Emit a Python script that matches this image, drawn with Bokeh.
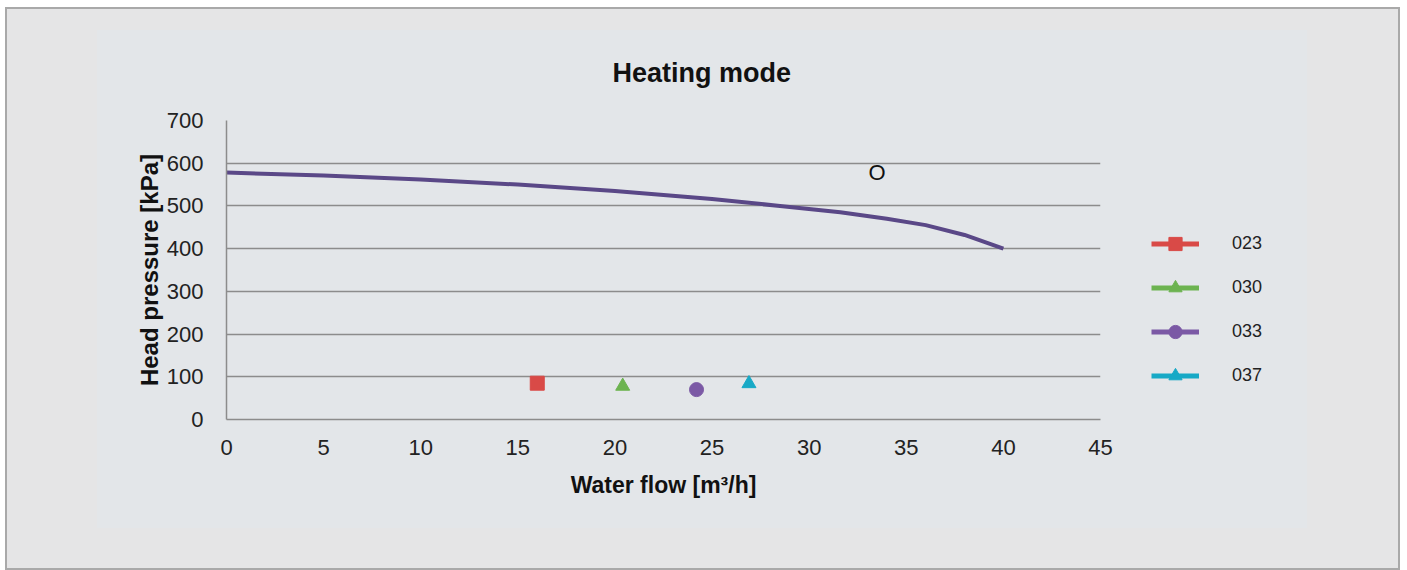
from bokeh.plotting import figure
from bokeh.models import (Label, Legend, LegendItem, FixedTicker,
                          ColumnDataSource, Row)
from bokeh.embed import file_html
from bokeh.resources import INLINE

# ---------------- data ----------------
curve_flow = [0, 5, 10, 15, 20, 25, 28.5, 31.6, 34, 36, 38, 40]
curve_head = [578, 571, 562, 550, 535, 516, 500, 485, 470, 455, 432, 400]

series_names = ["023", "030", "033", "037"]
series_flow = [16.0, 20.4, 24.2, 26.9]
series_head = [85, 78, 70, 84]
series_markers = ["square", "triangle", "circle", "triangle"]
series_colors = ["#d94a47", "#6cb350", "#7b59a5", "#17a9c6"]

x_ticks = [0, 5, 10, 15, 20, 25, 30, 35, 40, 45]
y_ticks = [0, 100, 200, 300, 400, 500, 600, 700]

title_text = "Heating mode"
x_title = "Water flow [m³/h]"
y_title = "Head pressure [kPa]"
note_text = "O"
note_pos = (33.5, 578)

FONT = "Liberation Sans"
BG_IN = "#e3e6e9"
BG_OUT = "#e5e5e6"
GRID = "#8c8c8c"

H = 563
W_MAIN = 1120
W_LEG = 275

p = figure(width=W_MAIN, height=H, output_backend="svg", toolbar_location=None,
           x_range=(x_ticks[0], x_ticks[-1]), y_range=(y_ticks[0], y_ticks[-1]),
           min_border_left=221, min_border_right=W_MAIN - 1095,
           min_border_top=113, min_border_bottom=151,
           background_fill_color=BG_IN, border_fill_alpha=0,
           outline_line_color=None, title=title_text)

# title
p.title.align = "left"
p.title.offset = 386
p.title.standoff = 65
p.title.text_font = FONT
p.title.text_font_size = "27px"
p.title.text_font_style = "bold"
p.title.text_color = "#111111"

# axes
for ax in (p.xaxis[0], p.yaxis[0]):
    ax.axis_line_color = GRID
    ax.axis_line_width = 1.5
    ax.major_tick_line_color = None
    ax.minor_tick_line_color = None
    ax.major_label_text_font = FONT
    ax.major_label_text_font_size = "22px"
    ax.major_label_text_color = "#222222"
    ax.axis_label_text_font = FONT
    ax.axis_label_text_font_style = "bold"
    ax.axis_label_text_color = "#111111"

p.xaxis.axis_label_text_font_size = "23px"
p.yaxis.axis_label_text_font_size = "24px"
p.xaxis.ticker = FixedTicker(ticks=x_ticks)
p.yaxis.ticker = FixedTicker(ticks=y_ticks)
p.xaxis.axis_label = x_title
p.yaxis.axis_label = y_title
p.xaxis.major_label_standoff = 14
p.yaxis.major_label_standoff = 17
p.xaxis.axis_label_standoff = 14
p.yaxis.axis_label_standoff = 1

p.xgrid.grid_line_color = None
p.ygrid.grid_line_color = GRID
p.ygrid.grid_line_width = 1.5

# curve
p.line(curve_flow, curve_head, line_color="#5a4887", line_width=4)

# legend panel (separate canvas to the right of the plot)
lf = figure(width=W_LEG, height=H, output_backend="svg", toolbar_location=None,
            x_range=(-1, 0), y_range=(-1, 0),
            x_axis_location=None, y_axis_location=None,
            min_border=0, outline_line_color=None,
            background_fill_alpha=0, border_fill_alpha=0)
lf.grid.visible = False

items = []
for name, fx, hy, mk, col in zip(series_names, series_flow, series_head,
                                 series_markers, series_colors):
    src = ColumnDataSource(dict(x=[fx], y=[hy]))
    # data point on the chart
    p.scatter("x", "y", source=src, marker=mk, size=14,
              fill_color=col, line_color=col)
    # legend swatch (line + marker)
    ln = lf.line("x", "y", source=src, line_color=col, line_width=5)
    sc = lf.scatter("x", "y", source=src, marker=mk, size=14,
                    fill_color=col, line_color=col)
    items.append(LegendItem(label=name, renderers=[ln, sc]))

legend = Legend(items=items, location=(26, 27), orientation="vertical",
                glyph_width=48, glyph_height=33, spacing=11,
                label_standoff=33, label_text_font=FONT,
                label_text_font_size="18px", label_text_color="#222222",
                background_fill_alpha=0, border_line_color=None,
                padding=10, margin=0)
lf.add_layout(legend)

# note
p.add_layout(Label(x=note_pos[0], y=note_pos[1], text=note_text,
                   text_align="center", text_baseline="middle",
                   text_font=FONT, text_font_size="22px",
                   text_color="#111111"))

layout = Row(children=[p, lf], spacing=0,
             styles={"margin-left": "5px", "margin-top": "7px",
                     "outline": "2px solid #a9a9a9", "outline-offset": "-2px",
                     "background": f"linear-gradient({BG_IN}, {BG_IN}) 92px 23px / 1210px 498px no-repeat, {BG_OUT}"})

open("out.html", "w").write(file_html(layout, INLINE))
